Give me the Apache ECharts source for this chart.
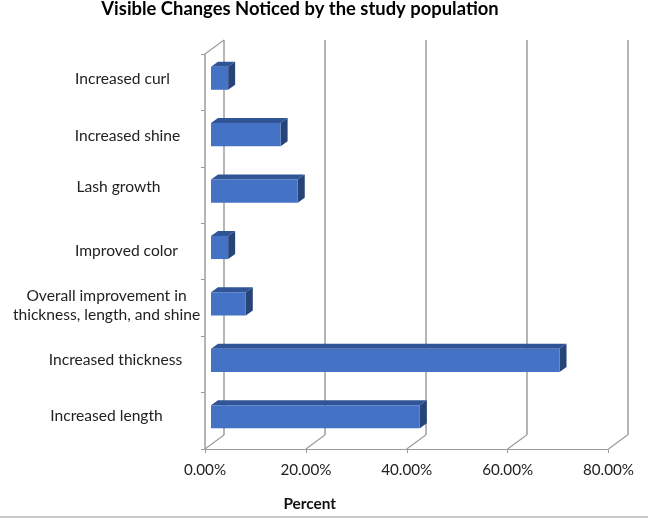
<!DOCTYPE html>
<html><head><meta charset="utf-8">
<style>html,body{margin:0;padding:0;background:#fff}#c{width:648px;height:518px}</style>
<script src="https://cdn.jsdelivr.net/npm/echarts@6/dist/echarts.min.js"></script>
</head><body><div id="c"></div>
<script>
const categories = ['Increased length','Increased thickness','Overall improvement in\nthickness, length, and shine','Improved color','Lash growth','Increased shine','Increased curl'];
const percentValues = [41.4,69.1,6.9,3.4,17.2,13.8,3.4];
const xTicks = [0,20,40,60,80];
const titleText = 'Visible Changes Noticed by the study population';
const xName = 'Percent';

// layout tuning (px)
const G = {left:205, top:54, width:403.5, height:395};
const depth = {x:19, y:-14};
const barShift = {x:6, y:-4};
const barTop = {x:7, y:-5};
const labelCentre = 106.5;
const labelNudgeX = [0,9,0,20,12,21,16];
const labelNudgeY = [5,4,2,1,8,3,3];
const gray = '#9c9c9c', font = 'Lato, "Open Sans", sans-serif';

const chart = echarts.init(document.getElementById('c'), null, {renderer:'canvas'});
const richFor = {};
categories.forEach((c,i)=>{ richFor['r'+i] = {padding:[0,0,labelNudgeY[i]*2,labelNudgeX[i]*2], fontFamily:font, fontSize:15.6, color:'#222', lineHeight:19}; });

chart.setOption({
  animation:false,
  backgroundColor:'#fff',
  title:{text:titleText,left:295,top:-5,textAlign:'center',textStyle:{fontFamily:font,fontSize:18.4,fontWeight:'bold',color:'#000'}},
  grid:[
    {left:G.left,top:G.top,width:G.width,height:G.height},
    {left:G.left+depth.x,top:G.top+depth.y,width:G.width,height:G.height}
  ],
  xAxis:[
    {type:'value',gridIndex:0,min:0,max:80,interval:20,
     name:xName,nameLocation:'middle',nameGap:48,nameTextStyle:{fontFamily:font,fontSize:15.4,fontWeight:'bold',color:'#111',padding:[0,194,0,0]},
     axisLine:{show:true,onZero:false,lineStyle:{color:gray,width:1}},
     axisTick:{show:true,length:4,lineStyle:{color:gray}},
     splitLine:{show:false},
     axisLabel:{margin:14,fontFamily:font,fontSize:15.2,color:'#222',formatter:v=>v.toFixed(2)+'%',hideOverlap:false,showMinLabel:true,showMaxLabel:true}},
    {type:'value',gridIndex:1,min:0,max:80,interval:20,
     axisLine:{show:false},axisTick:{show:false},axisLabel:{show:false},
     splitLine:{show:true,lineStyle:{color:gray,width:1.5}}}
  ],
  yAxis:[
    {type:'category',gridIndex:0,data:categories,
     axisLine:{show:true,lineStyle:{color:gray,width:1.5}},
     axisTick:{show:true,length:4,alignWithLabel:false,lineStyle:{color:gray}},
     axisLabel:{align:'center',margin:G.left-labelCentre,interval:0,
       formatter:(v,i)=>v.split('\n').map(l=>`{r${i}|${l}}`).join('\n'),rich:richFor}},
    {type:'category',gridIndex:1,data:categories,show:false}
  ],
  series:[
    {type:'custom',name:'floor',xAxisIndex:0,yAxisIndex:0,silent:true,z:1,clip:false,
     data:xTicks,encode:{x:0},
     renderItem:(p,api)=>{
       const x=api.coord([api.value(0),0])[0], yb=G.top+G.height;
       return {type:'line',shape:{x1:x,y1:yb,x2:x+depth.x,y2:yb+depth.y},style:{stroke:gray,lineWidth:1.2}};
     }},
    {type:'custom',name:'wallTop',xAxisIndex:0,yAxisIndex:0,silent:true,z:1,clip:false,
     data:[0],encode:{x:0},
     renderItem:(p,api)=>{
       const x=api.coord([0,0])[0];
       return {type:'line',shape:{x1:x,y1:G.top,x2:x+depth.x,y2:G.top+depth.y},style:{stroke:gray,lineWidth:1.2}};
     }},
    {type:'custom',name:'Percent',xAxisIndex:0,yAxisIndex:0,z:5,clip:false,
     data:percentValues.map((v,i)=>[v,i]),encode:{x:0,y:1},
     renderItem:(p,api)=>{
       const v=api.value(0),c=api.value(1);
       const o=api.coord([0,c]),e=api.coord([v,c]);
       const h=api.size([0,1])[1]*0.41;
       const x0=o[0]+barShift.x,x1=e[0]+barShift.x,cy=o[1]+barShift.y,t=cy-h/2,b=cy+h/2,dx=barTop.x,dy=barTop.y;
       return {type:'group',children:[
         {type:'polygon',shape:{points:[[x0,t],[x0+dx,t+dy],[x1+dx,t+dy],[x1,t]]},style:{fill:'#2F5597'}},
         {type:'polygon',shape:{points:[[x1,t],[x1+dx,t+dy],[x1+dx,b+dy],[x1,b]]},style:{fill:'#264478'}},
         {type:'rect',shape:{x:x0,y:t,width:x1-x0,height:h},style:{fill:'#4472C4'}}
       ]};
     }}
  ],
  graphic:[{type:'rect',shape:{x:0,y:516,width:648,height:2},style:{fill:'#c9c9c9'},silent:true}]
});
</script></body></html>
